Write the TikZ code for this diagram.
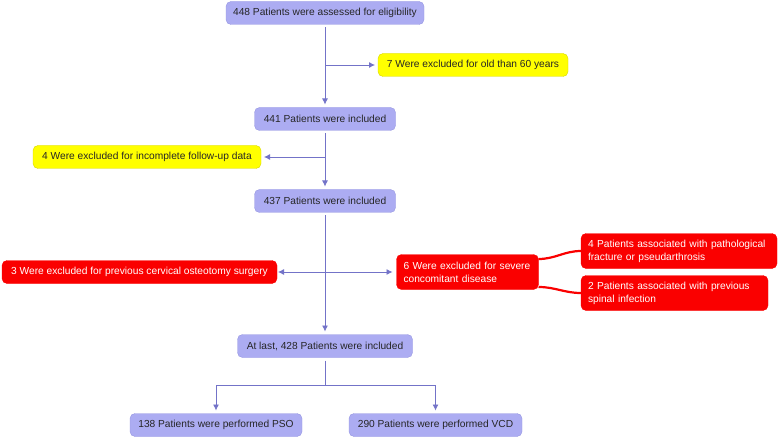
\documentclass[tikz,border=0pt]{standalone}
\usepackage{fontspec}
\setmainfont{Liberation Sans}
\usetikzlibrary{arrows.meta}
\definecolor{boxblue}{RGB}{172,172,242}
\definecolor{edgeblue}{RGB}{150,150,225}
\definecolor{lineblue}{RGB}{115,115,200}
\definecolor{boxyellow}{RGB}{255,255,0}
\definecolor{edgeyellow}{RGB}{215,215,0}
\definecolor{boxred}{RGB}{250,0,0}

\begin{document}
\begin{tikzpicture}[x=1pt,y=-1pt,>={Latex[length=6pt,width=6pt]},
    every node/.style={font=\fontsize{10.2}{13}\selectfont, rounded corners=5pt, outer sep=3pt, minimum height=23pt, inner xsep=7pt},
    stage/.style={fill=boxblue, draw=edgeblue, text=black!85},
    drop/.style={fill=boxyellow, draw=edgeyellow, text=black!85},
    cause/.style={fill=boxred, draw=boxred, text=white, align=left, outer sep=0pt},
    reason/.style={cause, text width=#1, minimum height=35pt},
    flow/.style={->, draw=lineblue, line width=0.8pt},
    split/.style={draw=boxred, line width=2.2pt}]
    \useasboundingbox (0,0) rectangle (778,438);
    % Main stages
    \node[stage, minimum width=198pt] (n448) at (325,13) {448 Patients were assessed for eligibility};
    \node[stage, minimum width=141pt] (n441) at (325,119) {441 Patients were included};
    \node[stage, minimum width=141pt] (n437) at (325,201) {437 Patients were included};
    \node[stage, minimum width=175pt] (n428) at (325,346) {At last, 428 Patients were included};
    \node[stage, minimum width=172pt] (nPSO) at (216,425) {138 Patients were performed PSO};
    \node[stage, minimum width=173pt] (nVCD) at (435.5,425) {290 Patients were performed VCD};
    % Exclusions
    \node[drop, minimum width=190pt] (n7) at (473,65) {7 Were excluded for old than 60 years};
    \node[drop, minimum width=228pt] (n4y) at (147,157) {4 Were excluded for incomplete follow-up data};
    \node[cause, minimum width=275pt] (n3r) at (139.5,272) {3 Were excluded for previous cervical osteotomy surgery};
    \node[reason=128pt] (n6r) at (467.5,272) {6 Were excluded for severe\\concomitant disease};
    \node[reason=182pt] (n4p) at (679,251) {4 Patients associated with pathological\\fracture or pseudarthrosis};
    \node[reason=173pt] (n2p) at (674.5,293) {2 Patients associated with previous\\spinal infection};
    \coordinate (fork) at (325,385);
    % Arrows
    \draw[flow] (n448) -- (n441);
    \draw[flow] (n448.south |- n7) -- (n7);
    \draw[flow] (n441) -- (n437);
    \draw[flow] (n441.south |- n4y) -- (n4y);
    \draw[flow] (n437) -- (n428);
    \draw[flow, <->, shorten <=1pt, shorten >=4pt] (n3r) -- (n6r);
    \draw[flow, -] (n428) -- (fork);
    \draw[flow] (fork) -| (nPSO);
    \draw[flow] (fork) -| (nVCD);
    % Red links
    \draw[split] ([yshift=13pt]n6r.east) to[out=0, in=180] (n4p.west);
    \draw[split] ([yshift=-15pt]n6r.east) to[out=0, in=180] (n2p.west);
\end{tikzpicture}
\end{document}
